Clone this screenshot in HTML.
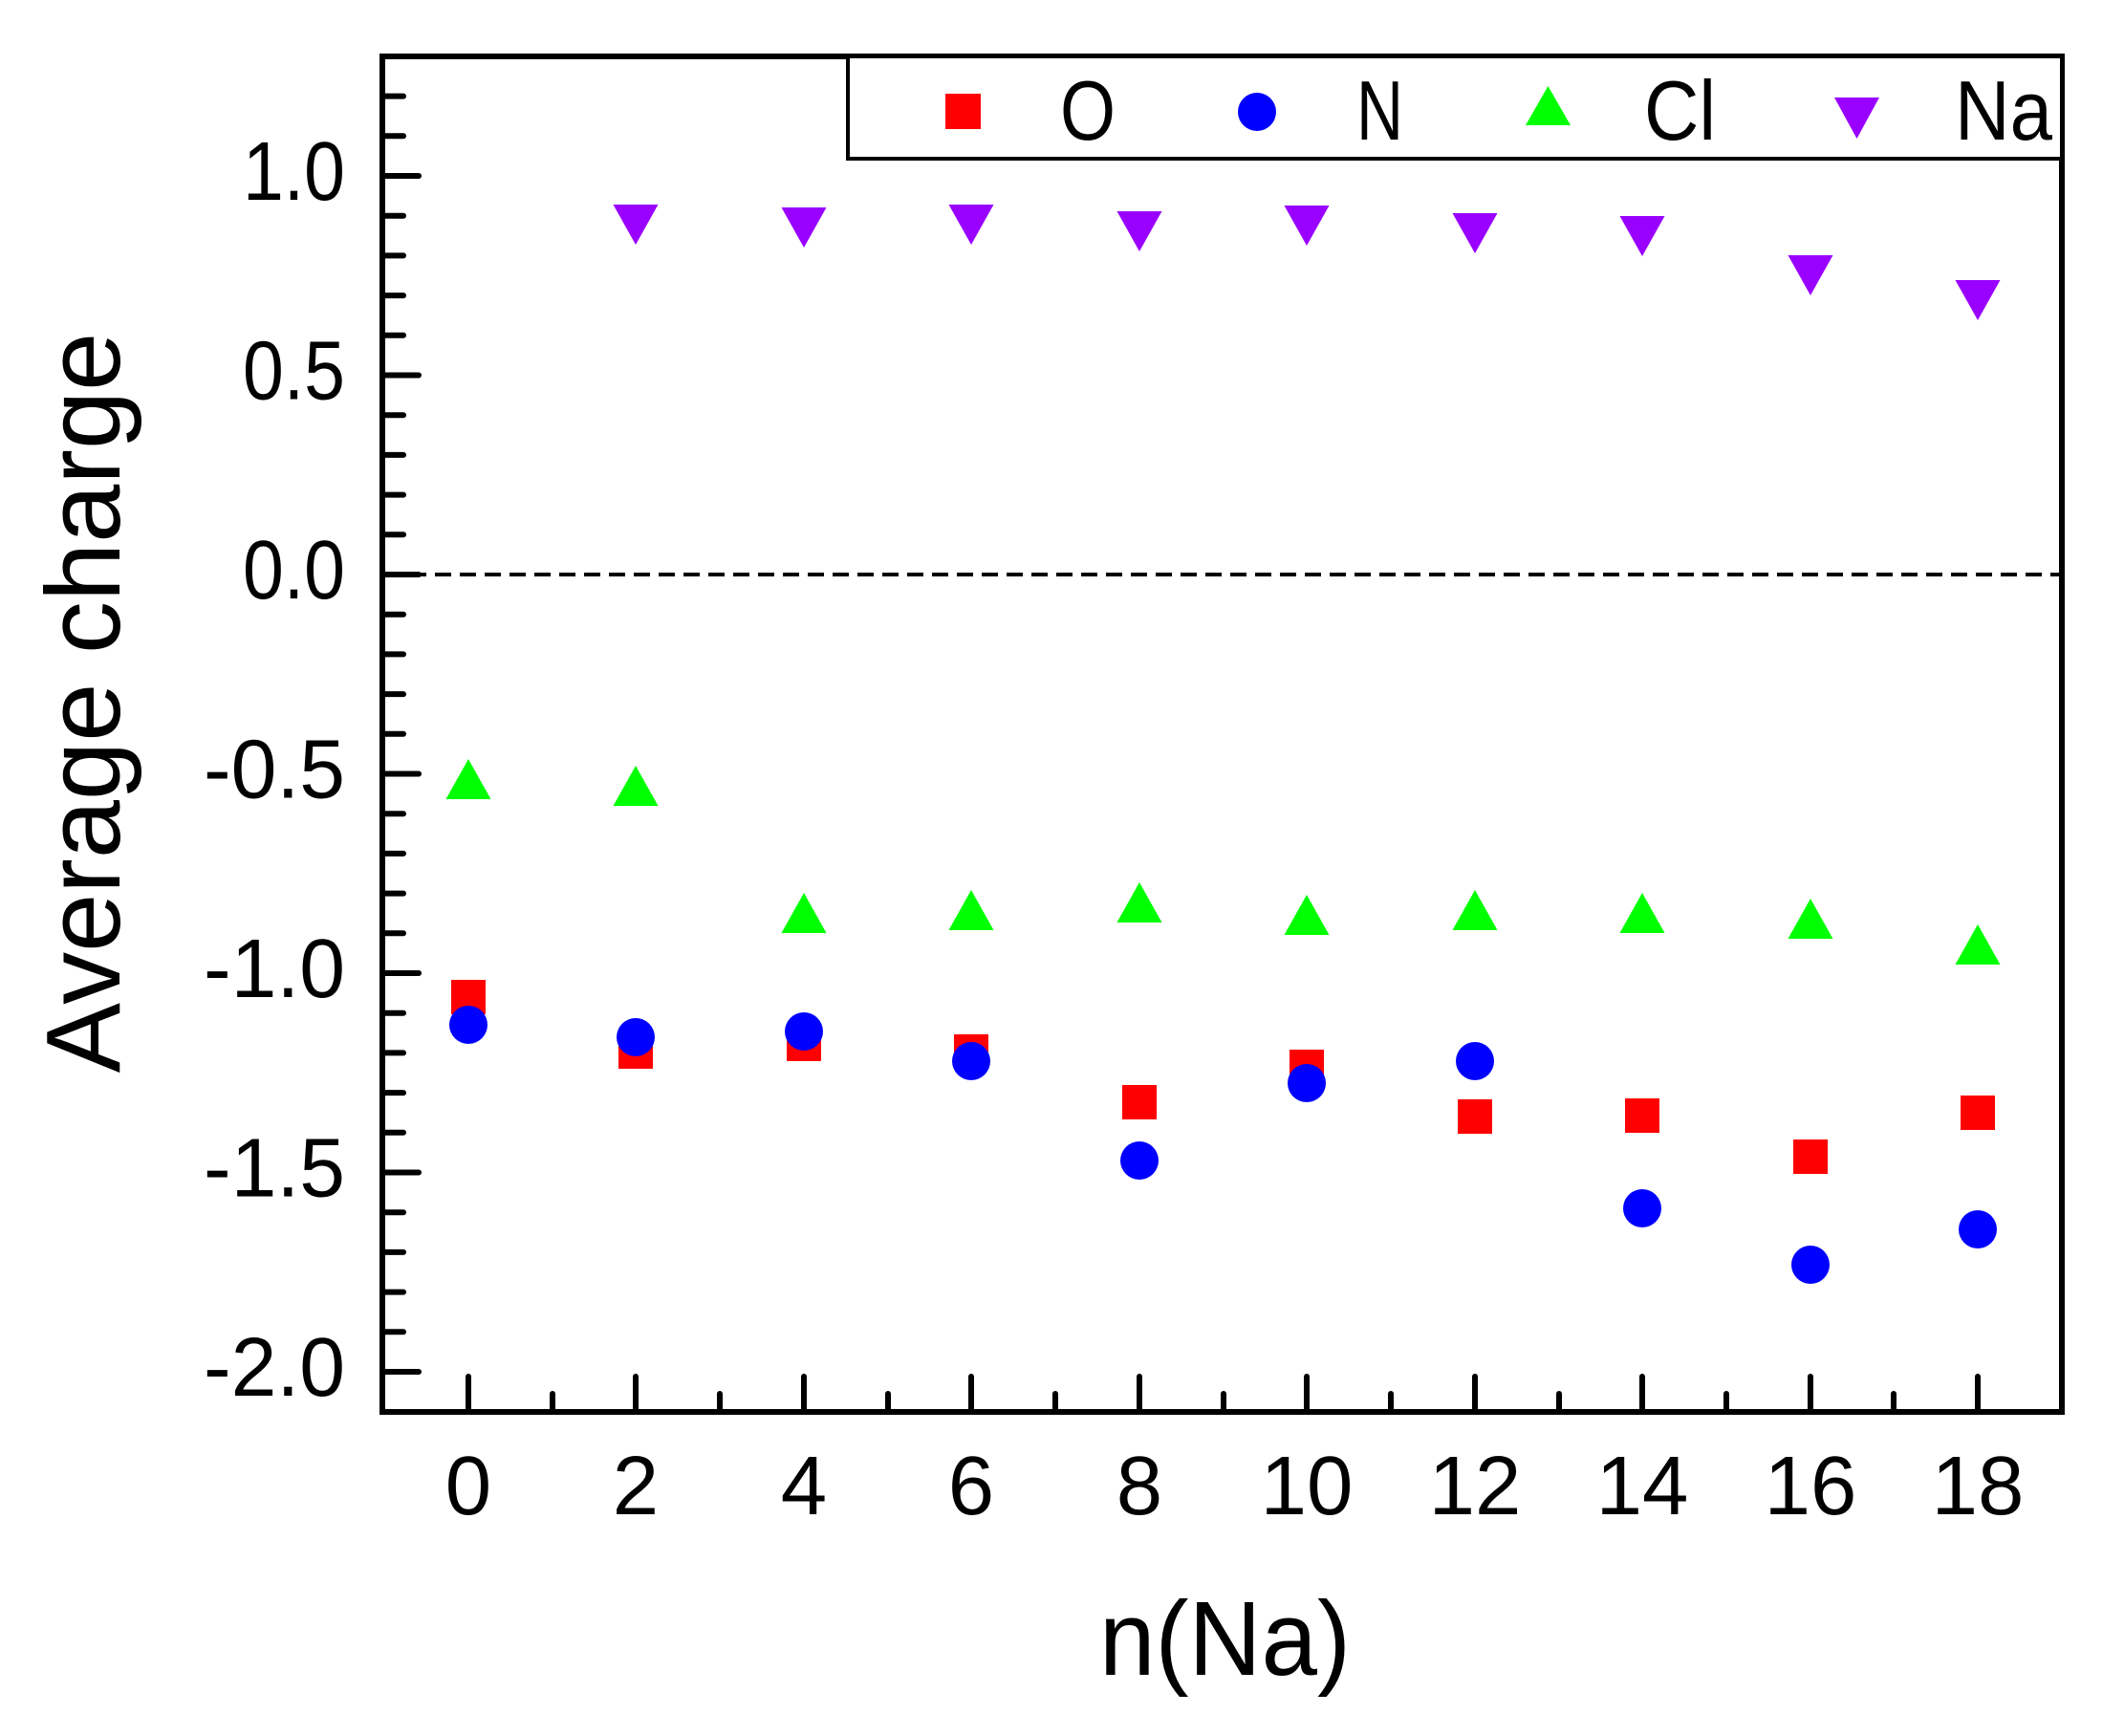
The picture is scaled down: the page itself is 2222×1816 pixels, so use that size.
<!DOCTYPE html>
<html><head><meta charset="utf-8"><style>html,body{margin:0;padding:0;background:#fff}svg{display:block}</style></head>
<body>
<svg width="2222" height="1816" viewBox="0 0 2222 1816" xmlns="http://www.w3.org/2000/svg" font-family="'Liberation Sans', Arial, sans-serif">
<rect width="2222" height="1816" fill="#fff"/>
<line x1="403" y1="601" x2="2154" y2="601" stroke="#000" stroke-width="4" stroke-dasharray="17,9"/>
<g stroke="#000" stroke-width="6" stroke-linecap="round">
<line x1="400" y1="184" x2="438" y2="184"/>
<line x1="400" y1="392.5" x2="438" y2="392.5"/>
<line x1="400" y1="601" x2="438" y2="601"/>
<line x1="400" y1="809.5" x2="438" y2="809.5"/>
<line x1="400" y1="1018" x2="438" y2="1018"/>
<line x1="400" y1="1226.5" x2="438" y2="1226.5"/>
<line x1="400" y1="1435" x2="438" y2="1435"/>
<line x1="400" y1="100.6" x2="422" y2="100.6"/>
<line x1="400" y1="142.3" x2="422" y2="142.3"/>
<line x1="400" y1="225.7" x2="422" y2="225.7"/>
<line x1="400" y1="267.4" x2="422" y2="267.4"/>
<line x1="400" y1="309.1" x2="422" y2="309.1"/>
<line x1="400" y1="350.8" x2="422" y2="350.8"/>
<line x1="400" y1="434.2" x2="422" y2="434.2"/>
<line x1="400" y1="475.9" x2="422" y2="475.9"/>
<line x1="400" y1="517.6" x2="422" y2="517.6"/>
<line x1="400" y1="559.3" x2="422" y2="559.3"/>
<line x1="400" y1="642.7" x2="422" y2="642.7"/>
<line x1="400" y1="684.4" x2="422" y2="684.4"/>
<line x1="400" y1="726.1" x2="422" y2="726.1"/>
<line x1="400" y1="767.8" x2="422" y2="767.8"/>
<line x1="400" y1="851.2" x2="422" y2="851.2"/>
<line x1="400" y1="892.9" x2="422" y2="892.9"/>
<line x1="400" y1="934.6" x2="422" y2="934.6"/>
<line x1="400" y1="976.3" x2="422" y2="976.3"/>
<line x1="400" y1="1059.7" x2="422" y2="1059.7"/>
<line x1="400" y1="1101.4" x2="422" y2="1101.4"/>
<line x1="400" y1="1143.1" x2="422" y2="1143.1"/>
<line x1="400" y1="1184.8" x2="422" y2="1184.8"/>
<line x1="400" y1="1268.2" x2="422" y2="1268.2"/>
<line x1="400" y1="1309.9" x2="422" y2="1309.9"/>
<line x1="400" y1="1351.6" x2="422" y2="1351.6"/>
<line x1="400" y1="1393.3" x2="422" y2="1393.3"/>
<line x1="490" y1="1477" x2="490" y2="1440"/>
<line x1="665" y1="1477" x2="665" y2="1440"/>
<line x1="841" y1="1477" x2="841" y2="1440"/>
<line x1="1016" y1="1477" x2="1016" y2="1440"/>
<line x1="1192" y1="1477" x2="1192" y2="1440"/>
<line x1="1367" y1="1477" x2="1367" y2="1440"/>
<line x1="1543" y1="1477" x2="1543" y2="1440"/>
<line x1="1718" y1="1477" x2="1718" y2="1440"/>
<line x1="1894" y1="1477" x2="1894" y2="1440"/>
<line x1="2069" y1="1477" x2="2069" y2="1440"/>
<line x1="578" y1="1477" x2="578" y2="1458"/>
<line x1="753" y1="1477" x2="753" y2="1458"/>
<line x1="929" y1="1477" x2="929" y2="1458"/>
<line x1="1104" y1="1477" x2="1104" y2="1458"/>
<line x1="1280" y1="1477" x2="1280" y2="1458"/>
<line x1="1455" y1="1477" x2="1455" y2="1458"/>
<line x1="1631" y1="1477" x2="1631" y2="1458"/>
<line x1="1806" y1="1477" x2="1806" y2="1458"/>
<line x1="1981" y1="1477" x2="1981" y2="1458"/>
</g>
<rect x="400" y="59" width="1757" height="1418" fill="none" stroke="#000" stroke-width="6"/>
<rect x="887" y="59" width="1270" height="107" fill="#fff" stroke="#000" stroke-width="4"/>
<rect x="989" y="98" width="37" height="37" fill="#f00"/>
<circle cx="1315" cy="117" r="20" fill="#00f"/>
<polygon points="1596,131 1643,131 1619.5,90" fill="#0f0"/>
<polygon points="1919,102 1966,102 1942.5,145" fill="#90f"/>
<g font-size="88" fill="#000">
<text x="1109" y="146" textLength="58" lengthAdjust="spacingAndGlyphs">O</text>
<text x="1419" y="146" textLength="49" lengthAdjust="spacingAndGlyphs">N</text>
<text x="1720" y="146" textLength="75" lengthAdjust="spacingAndGlyphs">Cl</text>
<text x="2045" y="146" textLength="102" lengthAdjust="spacingAndGlyphs">Na</text>
</g>
<g font-size="87" fill="#000">
<text x="254" y="209" textLength="107" lengthAdjust="spacingAndGlyphs">1.0</text>
<text x="254" y="417.5" textLength="107" lengthAdjust="spacingAndGlyphs">0.5</text>
<text x="254" y="626" textLength="107" lengthAdjust="spacingAndGlyphs">0.0</text>
<text x="213" y="834.5" textLength="148" lengthAdjust="spacingAndGlyphs">-0.5</text>
<text x="213" y="1043" textLength="148" lengthAdjust="spacingAndGlyphs">-1.0</text>
<text x="213" y="1251.5" textLength="148" lengthAdjust="spacingAndGlyphs">-1.5</text>
<text x="213" y="1460" textLength="148" lengthAdjust="spacingAndGlyphs">-2.0</text>
</g>
<g font-size="87" fill="#000" text-anchor="middle">
<text x="490" y="1584">0</text>
<text x="665" y="1584">2</text>
<text x="841" y="1584">4</text>
<text x="1016" y="1584">6</text>
<text x="1192" y="1584">8</text>
<text x="1367" y="1584">10</text>
<text x="1543" y="1584">12</text>
<text x="1718" y="1584">14</text>
<text x="1894" y="1584">16</text>
<text x="2069" y="1584">18</text>
</g>
<text x="1150" y="1752" font-size="110" fill="#000" textLength="263" lengthAdjust="spacingAndGlyphs">n(Na)</text>
<text transform="translate(125,735) rotate(-90)" font-size="110" text-anchor="middle" fill="#000">Average charge</text>
<g fill="#90f">
<polygon points="641.5,214 688.5,214 665,256"/>
<polygon points="817.5,217 864.5,217 841,259"/>
<polygon points="992.5,214 1039.5,214 1016,256"/>
<polygon points="1168.5,221 1215.5,221 1192,263"/>
<polygon points="1343.5,215 1390.5,215 1367,257"/>
<polygon points="1519.5,223 1566.5,223 1543,265"/>
<polygon points="1694.5,226 1741.5,226 1718,268"/>
<polygon points="1870.5,267 1917.5,267 1894,309"/>
<polygon points="2045.5,293 2092.5,293 2069,335"/>
</g>
<g fill="#0f0">
<polygon points="466.5,836 513.5,836 490,794"/>
<polygon points="641.5,843 688.5,843 665,801"/>
<polygon points="817.5,976 864.5,976 841,934"/>
<polygon points="992.5,973 1039.5,973 1016,931"/>
<polygon points="1168.5,965 1215.5,965 1192,923"/>
<polygon points="1343.5,978 1390.5,978 1367,936"/>
<polygon points="1519.5,973 1566.5,973 1543,931"/>
<polygon points="1694.5,976 1741.5,976 1718,934"/>
<polygon points="1870.5,982 1917.5,982 1894,940"/>
<polygon points="2045.5,1009 2092.5,1009 2069,967"/>
</g>
<g fill="#f00">
<rect x="472" y="1025" width="36" height="36"/>
<rect x="647" y="1082" width="36" height="36"/>
<rect x="823" y="1074" width="36" height="36"/>
<rect x="998" y="1082" width="36" height="36"/>
<rect x="1174" y="1135" width="36" height="36"/>
<rect x="1349" y="1098" width="36" height="36"/>
<rect x="1525" y="1150" width="36" height="36"/>
<rect x="1700" y="1149" width="36" height="36"/>
<rect x="1876" y="1192" width="36" height="36"/>
<rect x="2051" y="1146" width="36" height="36"/>
</g>
<g fill="#00f">
<circle cx="490" cy="1072" r="20"/>
<circle cx="665" cy="1085" r="20"/>
<circle cx="841" cy="1079" r="20"/>
<circle cx="1016" cy="1110" r="20"/>
<circle cx="1192" cy="1214" r="20"/>
<circle cx="1367" cy="1133" r="20"/>
<circle cx="1543" cy="1110" r="20"/>
<circle cx="1718" cy="1264" r="20"/>
<circle cx="1894" cy="1323" r="20"/>
<circle cx="2069" cy="1286" r="20"/>
</g>
</svg>
</body></html>
